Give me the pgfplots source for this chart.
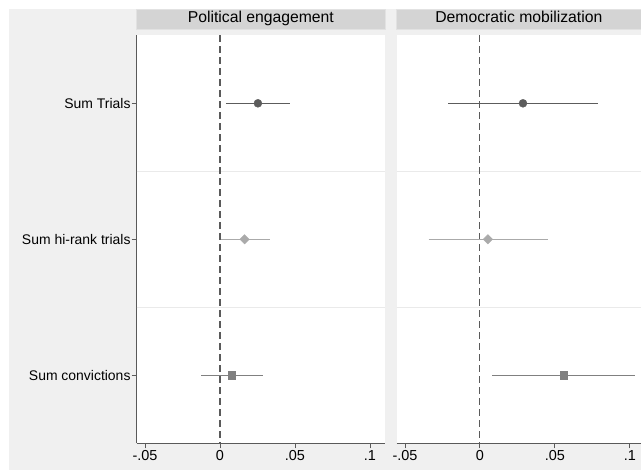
\documentclass[border=0pt]{standalone}
\usepackage{pgfplots}
\pgfplotsset{compat=1.18}
\usepackage{fontspec}
\setmainfont{Liberation Sans}
\definecolor{bggray}{RGB}{240,240,240}
\definecolor{stripfill}{RGB}{212,212,212}
\definecolor{stripdraw}{RGB}{226,226,226}
\definecolor{sepgray}{RGB}{234,234,234}
\definecolor{axgray}{RGB}{90,90,90}
\definecolor{cdark}{RGB}{92,92,92}
\definecolor{clight}{RGB}{170,170,170}
\definecolor{cmid}{RGB}{128,128,128}
\pgfplotsset{
  panel/.style={
    scale only axis,
    width=248.3bp, height=408bp,
    ymin=0.5, ymax=3.5, y dir=reverse,
    xmin=-0.0555,
    axis background/.style={fill=white},
    axis x line*=bottom,
    x axis line style={draw=axgray, line width=0.9bp, -},
    xtick={-0.05,0,0.05,0.1},
    xticklabels={-.05,0,.05,.1},
    xtick style={draw=axgray, line width=0.9bp},
    tick align=outside,
    major tick length=5bp,
    xticklabel style={font=\fontsize{14.5}{15}\selectfont, inner sep=1pt, yshift=-1bp},
    title style={at={(rel axis cs:0.5,1)}, anchor=south, fill=stripfill, draw=stripdraw, line width=0.8bp,
      minimum height=20bp, inner sep=0pt, yshift=0bp, font=\fontsize{15.8}{16}\selectfont},
    clip=false,
  },
}
\begin{document}
\begin{tikzpicture}
\path[use as bounding box] (0,0) rectangle (641bp,470bp);
\fill[white] (0,0) rectangle (641bp,470bp);
\fill[bggray] (9bp,0bp) rectangle (641bp,461bp);
% Panel 1
\begin{axis}[panel,
  at={(136.7bp,26.7bp)}, anchor=south west,
  xmax=0.110,
  axis y line*=left,
  y axis line style={draw=axgray, line width=0.9bp, -},
  ytick={1,2,3},
  yticklabels={Sum Trials,Sum hi-rank trials,Sum convictions},
  ytick style={draw=axgray, line width=0.9bp},
  yticklabel style={font=\fontsize{14}{15}\selectfont, inner sep=1pt},
  title={\makebox[248.3bp]{\strut Political engagement}},
]
\addplot[sepgray, line width=1.2bp, forget plot] coordinates {(-0.0555,1.5) (0.110,1.5)};
\addplot[sepgray, line width=1.2bp, forget plot] coordinates {(-0.0555,2.5) (0.110,2.5)};
\addplot[axgray, line width=1.1bp, dash pattern=on 7bp off 4bp, forget plot] coordinates {(0,0.5) (0,3.5)};
\addplot[cdark, line width=1.2bp] coordinates {(0.0040,1) (0.0467,1)};
\addplot[only marks, mark=*, mark size=4bp, cdark, mark options={draw=cdark, fill=cdark}] coordinates {(0.0253,1)};
\addplot[clight, line width=1.2bp] coordinates {(0.0005,2) (0.0333,2)};
\addplot[only marks, mark=square*, mark size=3.3bp, clight, mark options={draw=clight, fill=clight, rotate=45}] coordinates {(0.0164,2)};
\addplot[cmid, line width=1.2bp] coordinates {(-0.0124,3) (0.0284,3)};
\addplot[only marks, mark=square*, mark size=3.7bp, cmid, mark options={draw=cmid, fill=cmid}] coordinates {(0.0080,3)};
\end{axis}
% Panel 2
\begin{axis}[panel,
  at={(396.7bp,26.7bp)}, anchor=south west,
  width=244.3bp,
  xmax=0.1074,
  axis y line=none,
  ytick=\empty,
  title={\makebox[244.3bp]{\strut Democratic mobilization}},
]
\addplot[sepgray, line width=1.2bp, forget plot] coordinates {(-0.0555,1.5) (0.1074,1.5)};
\addplot[sepgray, line width=1.2bp, forget plot] coordinates {(-0.0555,2.5) (0.1074,2.5)};
\addplot[axgray, line width=1.1bp, dash pattern=on 7bp off 4bp, forget plot] coordinates {(0,0.5) (0,3.5)};
\addplot[cdark, line width=1.2bp] coordinates {(-0.0211,1) (0.0785,1)};
\addplot[only marks, mark=*, mark size=4bp, cdark, mark options={draw=cdark, fill=cdark}] coordinates {(0.0287,1)};
\addplot[clight, line width=1.2bp] coordinates {(-0.0342,2) (0.0451,2)};
\addplot[only marks, mark=square*, mark size=3.3bp, clight, mark options={draw=clight, fill=clight, rotate=45}] coordinates {(0.0053,2)};
\addplot[cmid, line width=1.2bp] coordinates {(0.0082,3) (0.1033,3)};
\addplot[only marks, mark=square*, mark size=3.7bp, cmid, mark options={draw=cmid, fill=cmid}] coordinates {(0.0558,3)};
\end{axis}
\end{tikzpicture}
\end{document}
